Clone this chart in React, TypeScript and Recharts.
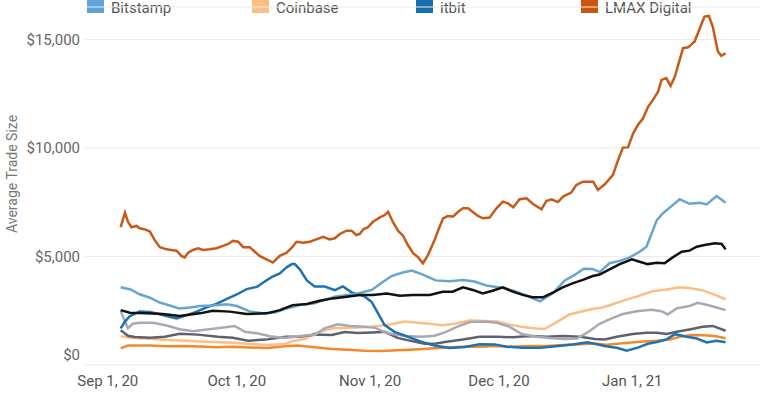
import React from 'react';
import { LineChart, Line, XAxis, YAxis, CartesianGrid } from 'recharts';

// x = days since Sep 1, 2020; y = average trade size in USD
const tickDays = [0, 30, 61, 91, 122];
const tickLabels = ['Sep 1, 20', 'Oct 1, 20', 'Nov 1, 20', 'Dec 1, 20', 'Jan 1, 21'];
const yTicks = [0, 5000, 10000, 15000];

const legendItems = [
  { name: 'Bitstamp', color: '#5fa2d3' },
  { name: 'Coinbase', color: '#fdbd83' },
  { name: 'itbit', color: '#1a6eae' },
  { name: 'LMAX Digital', color: '#c9550f' },
];

const lmax = [
  [3, 6350], [4, 7020], [4.7, 6600], [5.5, 6350], [6.7, 6410], [7.4, 6300], [8.6, 6250], [9.8, 6150],
  [10.9, 5760], [12.1, 5430], [13.7, 5330], [14.8, 5300], [16, 5270], [17.1, 5030], [17.9, 4960], [18.7, 5180],
  [19.8, 5300], [21, 5380], [22.2, 5300], [23.7, 5330], [25.3, 5380], [26.8, 5490], [28, 5580], [29.1, 5720],
  [30.3, 5680], [31.5, 5430], [33, 5430], [34.2, 5220], [35.3, 5030], [36.9, 4870], [38.4, 4720], [40, 5030],
  [41.6, 5180], [42.7, 5380], [43.9, 5680], [45.4, 5640], [47, 5680], [48.5, 5790], [50.1, 5910], [51.6, 5790],
  [52.8, 5840], [54, 6040], [55.5, 6190], [56.7, 6190], [57.8, 5990], [58.6, 6040], [59.4, 6250], [60.5, 6350],
  [61.7, 6600], [63.3, 6800], [64.4, 6910], [65.2, 7060], [66.3, 6600], [67.5, 6190], [68.7, 5950], [69.8, 5530],
  [71, 5150], [72.2, 4960], [73.3, 4690], [74.5, 5070], [76, 5760], [77.2, 6380], [78, 6760], [79.1, 6870],
  [80.3, 6840], [81.5, 7060], [82.6, 7220], [83.8, 7220], [85, 7040], [86.1, 6870], [87.3, 6760], [88.8, 6800],
  [90.4, 7220], [91.9, 7530], [93.1, 7450], [94.3, 7270], [95.8, 7640], [97.4, 7680], [98.9, 7420], [100.9, 7180],
  [102, 7560], [103.2, 7640], [104.7, 7510], [105.9, 7760], [107.8, 7950], [109, 8300], [110.5, 8450], [112.9, 8450],
  [114, 8070], [115.6, 8330], [117.5, 8760], [118.7, 9450], [119.8, 10020], [121, 10030], [122.2, 10680], [123.3, 11060],
  [124.5, 11370], [125.7, 11910], [126.8, 12220], [128, 12600], [128.8, 13140], [129.9, 13220], [130.9, 12860], [131.9, 13290],
  [133.8, 14600], [135, 14640], [136.5, 14910], [138, 15670], [138.8, 16060], [139.8, 16090], [140.7, 15600], [141.9, 14450],
  [142.7, 14250], [143.7, 14370],
];

const bitstamp = [
  [3, 3580], [5.3, 3480], [7.4, 3260], [9.8, 3100], [12.1, 2880], [14.4, 2740], [16.7, 2600], [19.1, 2650],
  [21.4, 2720], [24.4, 2740], [27.7, 2800], [30, 2720], [33, 2470], [36, 2390], [38.8, 2420], [41.6, 2600],
  [44.7, 2760], [48.1, 2840], [50.5, 3000], [52.8, 3150], [55.8, 3230], [58.1, 3300], [61.4, 3460], [63.7, 3790],
  [66, 4100], [68.4, 4250], [70.7, 4350], [73, 4190], [76.3, 3900], [79.5, 3860], [82.6, 3920], [85.3, 3850],
  [88.1, 3660], [91.9, 3550], [94.7, 3400], [97, 3230], [100.5, 2930], [103.5, 3300], [106.3, 3900], [108.6, 4150],
  [110.7, 4440], [112.8, 4430], [114.4, 4280], [116.7, 4690], [119.1, 4800], [121.4, 4960], [123.7, 5220], [125.3, 5450],
  [127.7, 6680], [129.1, 6990], [131.4, 7370], [133, 7640], [135.3, 7430], [137.7, 7480], [139.3, 7400], [141.6, 7790],
  [143.7, 7480],
];

const average = [
  [3, 2530], [5.1, 2410], [9.1, 2380], [12.8, 2350], [16.7, 2260], [21.4, 2380], [24.4, 2500], [28.4, 2460],
  [32.3, 2350], [37, 2380], [40, 2530], [43, 2760], [46.3, 2810], [49.3, 2960], [52.3, 3070], [55.6, 3150],
  [58.6, 3230], [61.6, 3230], [64.9, 3300], [67.9, 3190], [70.9, 3230], [74.9, 3230], [77.9, 3380], [80.2, 3380],
  [82.6, 3580], [84.9, 3460], [87.2, 3300], [89.5, 3420], [91.9, 3580], [94.2, 3380], [96.5, 3230], [98.8, 3120],
  [101.2, 3120], [103.5, 3330], [105.8, 3580], [108.1, 3760], [110.5, 3920], [112.8, 4100], [114.4, 4170], [116.7, 4410],
  [119.1, 4650], [121.9, 4870], [123.7, 4760], [125.6, 4650], [127.7, 4710], [129.5, 4690], [131.4, 4960], [133.5, 5220],
  [135.3, 5270], [137, 5450], [138.8, 5530], [141.2, 5610], [142.8, 5580], [143.7, 5330],
];

const itbit = [
  [3, 1690], [4, 2000], [5.1, 2250], [7.4, 2460], [9.8, 2440], [12.1, 2340], [14.4, 2220], [16, 2150],
  [18.4, 2300], [20.7, 2460], [23, 2660], [25.3, 2820], [27.7, 3050], [30, 3250], [32.3, 3500], [34.7, 3600],
  [36.5, 3850], [38.1, 4050], [40, 4220], [41.6, 4500], [42.8, 4650], [43.5, 4650], [44.7, 4400], [46.3, 3900],
  [48.1, 3620], [50.5, 3620], [52.8, 3450], [54.7, 3620], [56.7, 3350], [59.8, 3150], [61.4, 2900], [62.8, 2400],
  [64.4, 1840], [66.7, 1530], [69.8, 1300], [73, 1060], [76, 900], [79.5, 780], [83, 830], [86.5, 960],
  [90, 950], [92.8, 840], [96.5, 800], [100.5, 800], [104.2, 860], [108.1, 950], [111.6, 1050], [115.6, 880],
  [118.6, 780], [120.7, 660], [123.3, 800], [125.6, 980], [127.7, 1060], [130, 1180], [131.9, 1420], [134.7, 1300],
  [137, 1220], [139.3, 1040], [141.6, 1120], [143.7, 1050],
];

const coinbase = [
  [3, 1320], [5.8, 1250], [9.1, 1220], [13.7, 1150], [16.7, 1130], [21.4, 1080], [24.4, 1060], [29.1, 1020],
  [32.3, 980], [37, 920], [41.2, 970], [43, 1100], [45.8, 1200], [48.1, 1460], [52.3, 1690], [56.7, 1720],
  [61.4, 1760], [65.6, 1870], [69.1, 2000], [72.1, 1950], [74.9, 1900], [77.9, 1830], [80.7, 1900], [84.2, 2050],
  [87.7, 2030], [90.5, 2000], [93.5, 1860], [96.5, 1750], [99.8, 1680], [101.6, 1660], [104.2, 1950], [107.4, 2330],
  [110.9, 2500], [113.3, 2600], [115.1, 2650], [117.4, 2800], [120.5, 3000], [123.7, 3200], [126.7, 3400], [130, 3480],
  [133, 3580], [135.3, 3550], [138.4, 3440], [141.2, 3230], [143.7, 3030],
];

const lightGray = [
  [3, 2500], [4, 2000], [4.7, 1700], [5.8, 1900], [7.4, 1950], [10.5, 1950], [13.7, 1820], [16.7, 1650],
  [19.8, 1560], [23, 1640], [26.5, 1720], [29.5, 1800], [31.9, 1530], [34.7, 1460], [37.7, 1330], [41.2, 1250],
  [43.5, 1300], [45.8, 1360], [48.1, 1380], [50.5, 1700], [53.5, 1880], [56.3, 1800], [59.8, 1760], [62.1, 1720],
  [64.9, 1470], [69.1, 1340], [73, 1300], [76, 1350], [78.4, 1500], [81.2, 1760], [84.2, 1980], [87.7, 2000],
  [90.5, 1950], [93.5, 1760], [96.3, 1430], [99.8, 1300], [103.3, 1230], [106.3, 1200], [109.1, 1220], [111.6, 1500],
  [114.4, 1900], [117.2, 2150], [119.8, 2350], [123, 2480], [126.5, 2550], [128.8, 2480], [130.2, 2330], [132.3, 2610],
  [135.3, 2720], [137.2, 2870], [140, 2740], [143.7, 2530],
];

const darkGray = [
  [3, 1600], [4.7, 1350], [6.3, 1290], [9.8, 1260], [13.3, 1300], [16.7, 1440], [20.9, 1400], [25.6, 1300],
  [29.1, 1260], [32.6, 1120], [36.7, 1170], [41.4, 1300], [44.7, 1300], [48.1, 1400], [52.1, 1380], [55.1, 1520],
  [58.1, 1480], [61.4, 1500], [64.4, 1530], [67.4, 1250], [70.7, 1100], [73.7, 980], [76, 980], [78.8, 1070],
  [82.6, 1180], [86.5, 1300], [90.5, 1300], [94.2, 1280], [98.1, 1340], [102.1, 1300], [105.8, 1340], [109.8, 1300],
  [113.3, 1200], [115.6, 1180], [118.4, 1300], [122.1, 1430], [125.3, 1490], [127.7, 1490], [130, 1430], [132.3, 1530],
  [135.3, 1640], [138.4, 1760], [140.7, 1800], [143.7, 1580],
];

const orange = [
  [3, 770], [4.7, 900], [9.8, 900], [13.7, 860], [17.4, 880], [21.4, 850], [25.3, 820], [29.1, 840],
  [33, 810], [37, 780], [41.2, 860], [44.2, 900], [48.1, 820], [52.1, 740], [55.8, 700], [59.8, 660],
  [63.7, 640], [67.4, 680], [71.4, 720], [76, 770], [78.8, 810], [82.6, 840], [86.5, 840], [90.5, 870],
  [94.2, 840], [98.1, 870], [102.1, 880], [105.8, 920], [109.8, 960], [113.3, 990], [116, 930], [119.8, 1000],
  [123.7, 1070], [127.7, 1120], [130.7, 1180], [133.7, 1330], [136, 1380], [138.4, 1370], [141.2, 1340], [143.7, 1230],
];

const toRows = (pairs: number[][]) => pairs.map(([d, v]) => ({ d, v }));

const series = [
  { key: 'orange', data: orange, color: '#f28a2c' },
  { key: 'coinbase', data: coinbase, color: '#fdbd83' },
  { key: 'darkGray', data: darkGray, color: '#5d6270' },
  { key: 'lightGray', data: lightGray, color: '#a9a9b6' },
  { key: 'itbit', data: itbit, color: '#1f72b0' },
  { key: 'bitstamp', data: bitstamp, color: '#67a5cf' },
  { key: 'average', data: average, color: '#111111' },
  { key: 'lmax', data: lmax, color: '#c85a18' },
];

const money = (v: number) => '$' + v.toLocaleString('en-US');

const YTick = ({ x, y, payload }: any) => (
  <text x={x} y={payload.value === 0 ? y - 10 : y} dy="0.355em" textAnchor="end" fill="#666" fontSize={15}>
    {money(payload.value)}
  </text>
);

const App = () => {
  return (
    <div style={{ position: 'relative', width: 769, height: 398, fontFamily: 'Roboto, sans-serif', background: '#fff', overflow: 'hidden' }}>
      <style>{'body { margin: 0; }'}</style>
      {legendItems.map((item, i) => (
        <div key={item.name} style={{ position: 'absolute', top: 0, left: [87, 252, 416, 581][i], display: 'flex', alignItems: 'flex-start' }}>
          <div style={{ width: 17, height: 13, background: item.color }} />
          <span style={{ marginLeft: 7, fontSize: 15, lineHeight: '15px', marginTop: 1, color: '#555' }}>{item.name}</span>
        </div>
      ))}
      <div style={{ position: 'absolute', left: 12, top: 174, transform: 'translate(-50%, -50%) rotate(-90deg)', whiteSpace: 'nowrap', fontSize: 14, color: '#777' }}>
        Average Trade Size
      </div>
      <LineChart width={769} height={398} margin={{ top: 7, right: 9, bottom: 0, left: 0 }}>
        <CartesianGrid vertical={false} stroke="#ececec" />
        <XAxis
          dataKey="d"
          type="number"
          domain={[-5.3, 151.7]}
          ticks={tickDays}
          tickFormatter={(d: number) => tickLabels[tickDays.indexOf(d)]}
          axisLine={false}
          tickLine={false}
          tickSize={0}
          tickMargin={10}
          height={33}
          tick={{ fill: '#555', fontSize: 15 }}
          allowDataOverflow
        />
        <YAxis
          type="number"
          domain={[0, 16500]}
          ticks={yTicks}
          width={85}
          axisLine={false}
          tickLine={false}
          tickSize={0}
          tickMargin={5}
          tick={<YTick />}
        />
        {series.map((s) => (
          <Line
            key={s.key}
            data={toRows(s.data)}
            dataKey="v"
            type="linear"
            stroke={s.color}
            strokeWidth={2.5}
            dot={false}
            isAnimationActive={false}
          />
        ))}
      </LineChart>
    </div>
  );
};

export default App;
